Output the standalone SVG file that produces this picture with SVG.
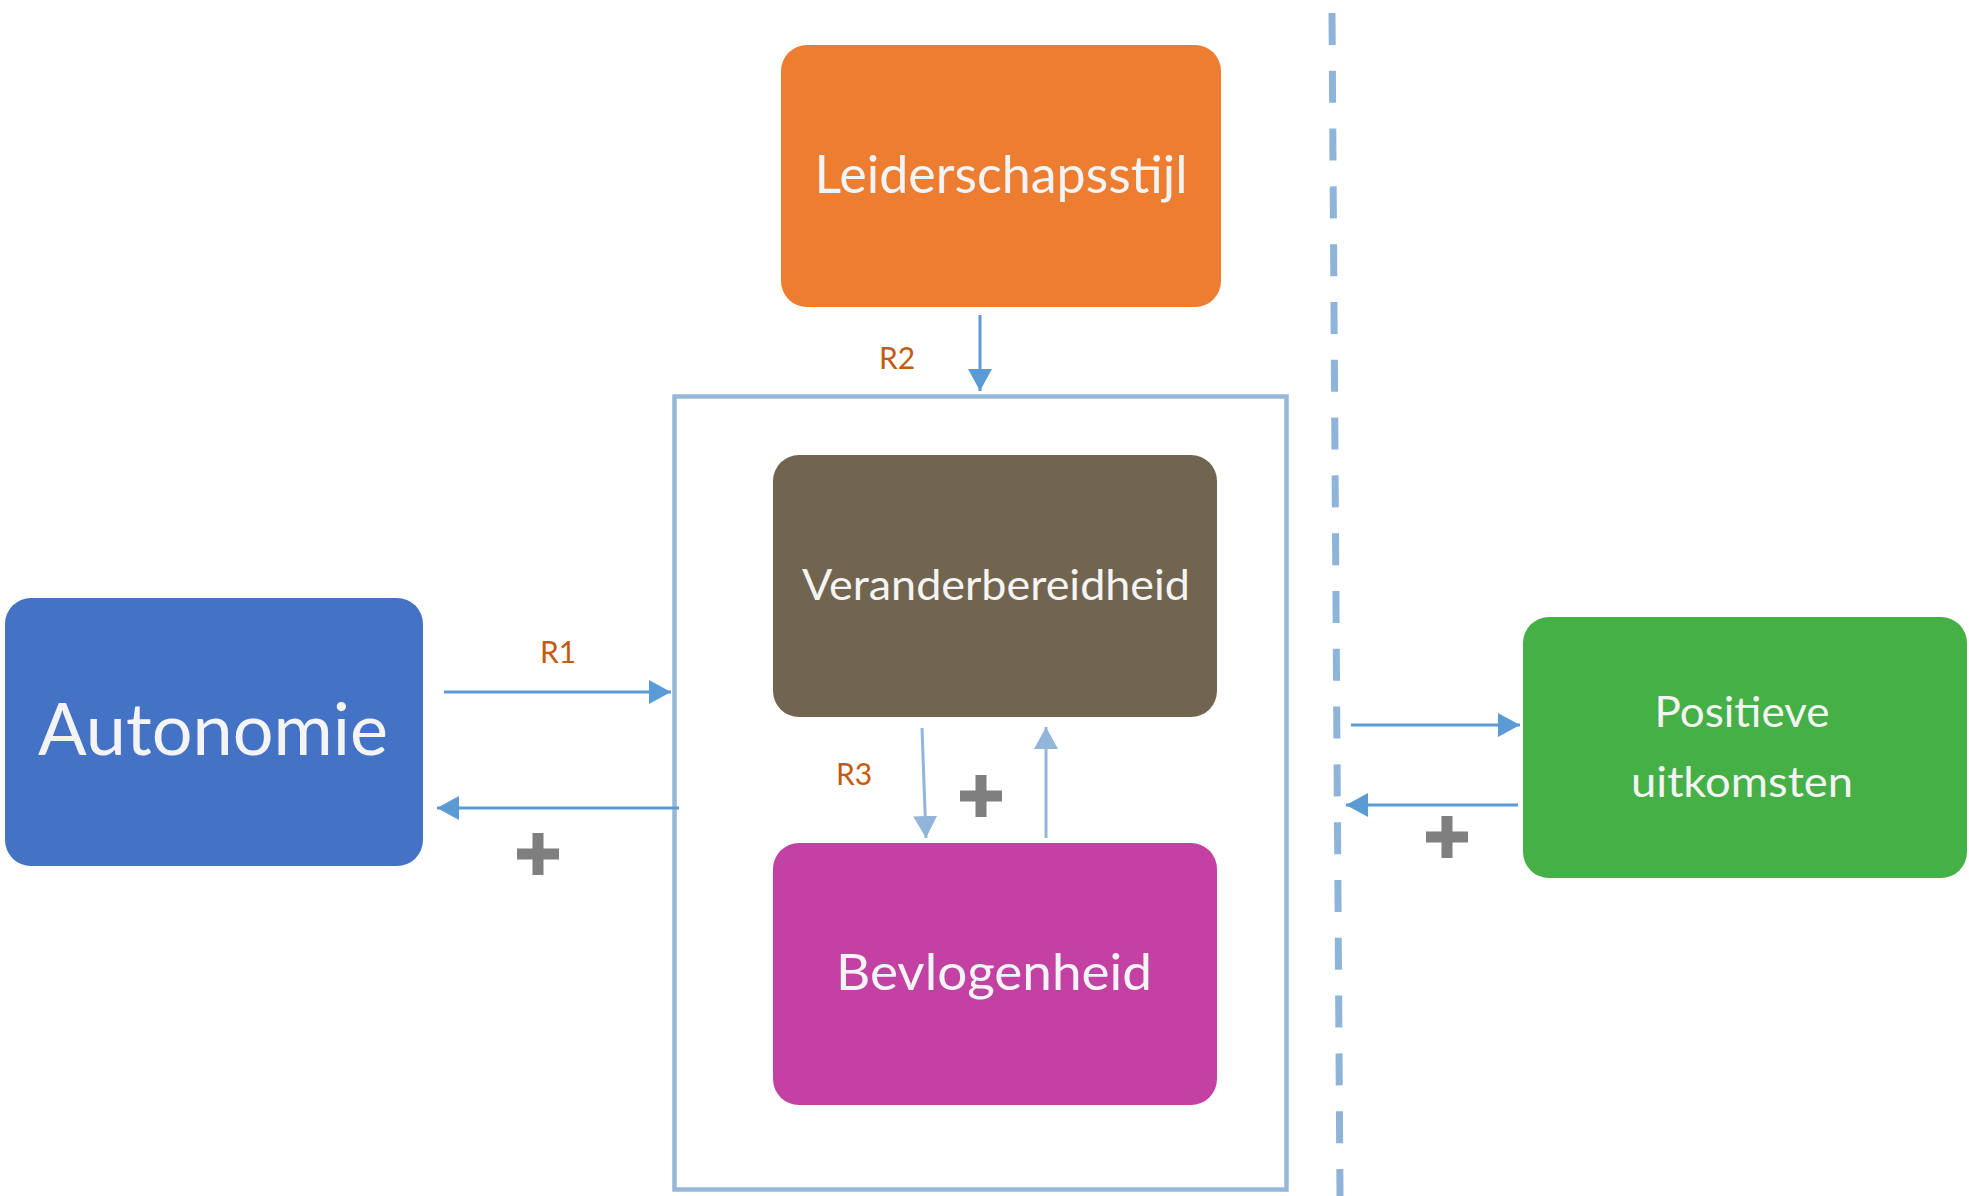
<svg xmlns="http://www.w3.org/2000/svg" width="1969" height="1196" viewBox="0 0 1969 1196">
<defs>
<style>
.lbl{font-family:"Lato","Liberation Sans",sans-serif;fill:#f4f4f4;text-anchor:middle}
.r{font-family:"Lato","Liberation Sans",sans-serif;fill:#c55a11;font-size:30px;text-anchor:middle}
.a1{stroke:#5b9bd5;stroke-width:3;fill:none}
.a2{stroke:#92b6da;stroke-width:3;fill:none}
.plus{fill:#7f7f7f}
</style>
<marker id="h1" markerUnits="userSpaceOnUse" markerWidth="24" markerHeight="26" refX="22" refY="12" orient="auto"><path d="M0,0 L22,12 L0,24 Z" fill="#5b9bd5"/></marker>
<marker id="h2" markerUnits="userSpaceOnUse" markerWidth="24" markerHeight="26" refX="22" refY="12" orient="auto"><path d="M0,0 L22,12 L0,24 Z" fill="#92b6da"/></marker>
<symbol id="plus" viewBox="0 0 42 42"><rect x="15.5" y="0" width="11" height="42"/><rect x="0" y="15.5" width="42" height="11"/></symbol>
</defs>
<rect width="1969" height="1196" fill="#ffffff"/>

<g id="container"><rect x="674.5" y="396.5" width="612" height="793" fill="none" stroke="#95b8da" stroke-width="4.5"/></g>
<g id="divider"><line x1="1332" y1="13" x2="1340" y2="1196" stroke="#8fb4d9" stroke-width="7" stroke-dasharray="32 25.8"/></g>

<g id="leiderschapsstijl"><rect x="781" y="45" width="440" height="262" rx="26" fill="#ed7d31"/><text class="lbl" x="1001" y="193" font-size="52" textLength="373" lengthAdjust="spacingAndGlyphs">Leiderschapsstijl</text></g>
<g id="autonomie"><rect x="5" y="598" width="418" height="268" rx="26" fill="#4472c4"/><text class="lbl" x="213" y="755" font-size="72" textLength="350" lengthAdjust="spacingAndGlyphs">Autonomie</text></g>
<g id="veranderbereidheid"><rect x="773" y="455" width="444" height="262" rx="26" fill="#72654f"/><text class="lbl" x="996" y="600" font-size="42" textLength="388" lengthAdjust="spacingAndGlyphs">Veranderbereidheid</text></g>
<g id="bevlogenheid"><rect x="773" y="843" width="444" height="262" rx="26" fill="#c341a3"/><text class="lbl" x="994" y="990" font-size="51" textLength="316" lengthAdjust="spacingAndGlyphs">Bevlogenheid</text></g>
<g id="positieve-uitkomsten"><rect x="1523" y="617" width="444" height="261" rx="26" fill="#45b046"/><text class="lbl" x="1742" y="727" font-size="42" textLength="175" lengthAdjust="spacingAndGlyphs">Positieve</text><text class="lbl" x="1742" y="797" font-size="42" textLength="222" lengthAdjust="spacingAndGlyphs">uitkomsten</text></g>

<g id="connectors">
<line class="a1" x1="980" y1="315" x2="980" y2="391" marker-end="url(#h1)"/>
<line class="a1" x1="444" y1="692" x2="671" y2="692" marker-end="url(#h1)"/>
<line class="a1" x1="679" y1="808" x2="437" y2="808" marker-end="url(#h1)"/>
<line class="a2" x1="922" y1="728" x2="926" y2="838" marker-end="url(#h2)"/>
<line class="a2" x1="1046" y1="838" x2="1046" y2="727" marker-end="url(#h2)"/>
<line class="a1" x1="1351" y1="725" x2="1520" y2="725" marker-end="url(#h1)"/>
<line class="a1" x1="1518" y1="805" x2="1346" y2="805" marker-end="url(#h1)"/>
</g>

<g id="labels">
<text class="r" x="558" y="663">R1</text>
<text class="r" x="897" y="369">R2</text>
<text class="r" x="854" y="785">R3</text>
<use href="#plus" class="plus" x="517" y="833" width="42" height="42"/>
<use href="#plus" class="plus" x="960" y="775" width="42" height="42"/>
<use href="#plus" class="plus" x="1426" y="816" width="42" height="42"/>
</g>
</svg>
